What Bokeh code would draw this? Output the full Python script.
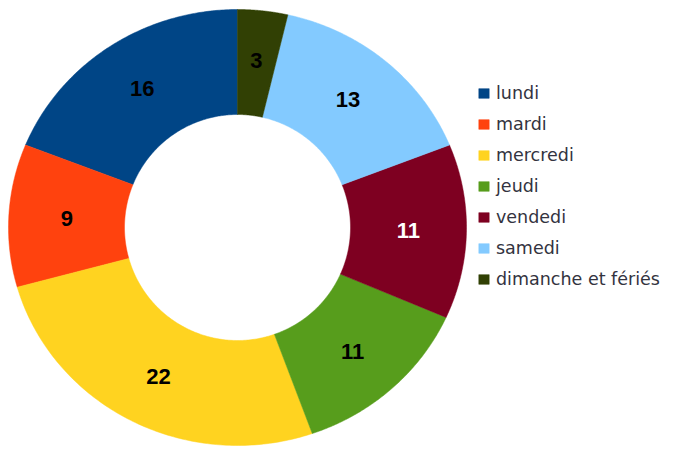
import numpy as np
from bokeh.plotting import figure
from bokeh.models import Range1d, ColumnDataSource, Legend, LegendItem
from bokeh.core.properties import value
from bokeh.embed import file_html
from bokeh.resources import INLINE

categories = ["lundi", "mardi", "mercredi", "jeudi", "vendedi", "samedi", "dimanche et fériés"]
counts = [16, 9, 22, 11, 11, 13, 3]
colors = ["#004586", "#ff420e", "#ffd320", "#579d1c", "#7e0021", "#83caff", "#314004"]
label_colors = ["#000000", "#000000", "#000000", "#000000", "#ffffff", "#000000", "#000000"]

# geometry (screen pixel coordinates inside the plot)
cx, cy = 237, 227
rx_out, ry_out = 229, 218
r_in = 113
rx_lab, ry_lab = 171, 168

vals = np.array(counts, dtype=float)
frac = vals / vals.sum()
ends = np.pi / 2 + 2 * np.pi * np.cumsum(frac)
starts = ends - 2 * np.pi * frac

xs, ys, lx, ly = [], [], [], []
for a0, a1 in zip(starts, ends):
    t = np.linspace(a0, a1, 120)
    ox = cx + rx_out * np.cos(t)
    oy = cy - ry_out * np.sin(t)
    ix = cx + r_in * np.cos(t[::-1])
    iy = cy - r_in * np.sin(t[::-1])
    xs.append(list(np.concatenate([ox, ix])))
    ys.append(list(np.concatenate([oy, iy])))
    m = (a0 + a1) / 2
    lx.append(cx + rx_lab * np.cos(m))
    ly.append(cy - ry_lab * np.sin(m))

src = ColumnDataSource(dict(xs=xs, ys=ys, color=colors, label=categories))
lsrc = ColumnDataSource(dict(x=lx, y=ly, text=[str(c) for c in counts], tc=label_colors))

W, H = 671, 446
p = figure(width=W, height=H, output_backend="svg", toolbar_location=None,
           x_range=Range1d(0, W), y_range=Range1d(H, 0),
           min_border=0, outline_line_color=None)
p.axis.visible = False
p.grid.visible = False
p.background_fill_color = "white"

r = p.patches("xs", "ys", source=src, fill_color="color", line_color="color", line_width=0.5)
p.text("x", "y", text="text", source=lsrc, text_color="tc",
       text_align="center", text_baseline="middle",
       text_font=value("Liberation Sans"),
       text_font_style="bold", text_font_size="22px")

items = [LegendItem(label=c, renderers=[r], index=i) for i, c in enumerate(categories)]
legend = Legend(items=items, location=(477, 157),
                glyph_width=13, glyph_height=12, label_height=20, spacing=11,
                label_standoff=6, padding=0, margin=0,
                label_text_font="DejaVu Sans", label_text_font_size="17.5px",
                label_text_color="#333340",
                border_line_alpha=0, background_fill_alpha=0)
p.add_layout(legend)

open("out.html", "w").write(file_html(p, INLINE))
